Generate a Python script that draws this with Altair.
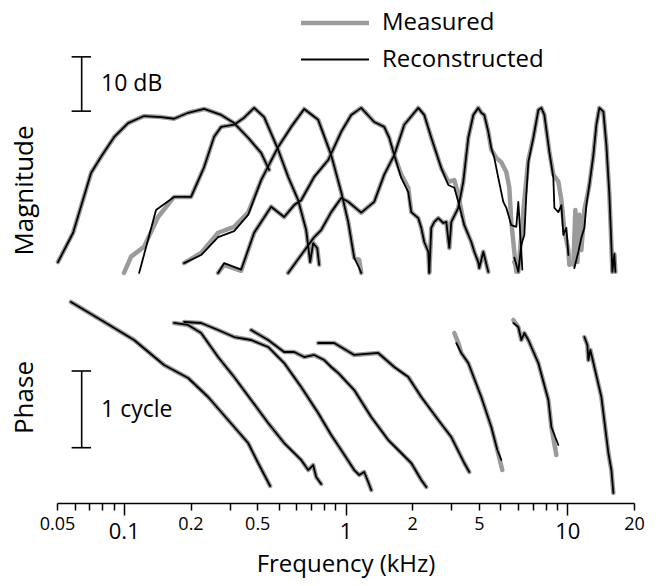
import altair as alt
import pandas as pd

FONT = "Open Sans"
KINDS = ["Measured", "Reconstructed"]

# ---------------- magnitude (kHz, dB re. peak) ----------------
A_f = [0.0505, 0.0591, 0.0712, 0.0790, 0.0904, 0.1046, 0.1234, 0.1474, 0.1686, 0.1951, 0.2304, 0.2749, 0.3146, 0.3638, 0.4165, 0.4525]
A_db = [-28.3, -22.9, -11.9, -8.9, -5.3, -2.7, -1.4, -1.6, -1.9, -0.8, -0.1, -1.2, -2.7, -5.4, -8.2, -11.3]

B_meas_f = [0.1003, 0.1079, 0.1234, 0.1428, 0.1686, 0.2012, 0.2304, 0.2556, 0.2749, 0.3146, 0.3490, 0.3873, 0.4297, 0.4969, 0.5513, 0.6117, 0.6647, 0.6929, 0.7148, 0.7452, 0.7609]
B_meas_db = [-30.3, -27.3, -25.5, -20.0, -16.3, -16.3, -10.8, -5.2, -3.4, -3.0, -1.7, 0.1, -1.6, -7.6, -12.6, -16.9, -22.4, -28.3, -24.8, -25.7, -28.8]
B_rec_f = [0.1173, 0.1287, 0.1398, 0.1686, 0.2012, 0.2304, 0.2556, 0.2749, 0.3146, 0.3490, 0.3873, 0.4297, 0.4969, 0.5513, 0.6117, 0.6647, 0.6929, 0.7148, 0.7452, 0.7609]
B_rec_db = [-30.3, -24.2, -18.7, -16.3, -16.3, -10.8, -5.2, -3.4, -3.0, -1.7, 0.1, -1.6, -7.6, -12.6, -16.9, -22.4, -28.3, -24.8, -25.7, -28.8]

C_f = [0.1871, 0.2233, 0.2664, 0.3146, 0.3638, 0.4165, 0.4969, 0.5688, 0.6511, 0.7530, 0.8620, 0.9563, 1.0284, 1.0946, 1.1530, 1.1772]
C_meas_db = [-28.5, -26.6, -22.9, -21.8, -19.2, -13.2, -7.1, -3.4, -0.1, -2.1, -8.6, -15.4, -20.9, -27.5, -27.9, -30.3]
C_rec_db = [-28.5, -27.0, -23.7, -22.6, -19.6, -13.2, -7.1, -3.4, -0.1, -2.1, -8.6, -15.4, -20.9, -27.5, -29.4, -30.3]

D_f = [0.2664, 0.2836, 0.3383, 0.3873, 0.4620, 0.5289, 0.5868, 0.6311, 0.7223, 0.8355, 0.9563, 1.0610, 1.1772, 1.3474, 1.4950, 1.5749, 1.6589, 1.7844, 1.9191, 1.9800, 2.1290, 2.1964, 2.2660, 2.3622, 2.3868]
D_meas_db = [-30.3, -28.8, -29.9, -22.9, -18.1, -20.0, -17.8, -16.9, -12.6, -9.5, -4.3, -1.2, 0.1, -2.5, -3.4, -5.4, -8.6, -12.2, -14.6, -19.1, -20.2, -22.0, -24.6, -26.4, -30.1]
D_rec_db = [-30.3, -28.5, -29.7, -22.9, -18.1, -20.0, -17.8, -16.9, -12.6, -9.5, -4.3, -1.2, 0.1, -2.5, -3.4, -5.4, -8.6, -12.8, -15.4, -19.1, -20.2, -22.0, -24.6, -26.4, -30.1]

E_f = [0.5513, 0.6311, 0.7223, 0.7768, 0.8620, 0.9563, 1.0284, 1.1772, 1.3474, 1.4950, 1.6589, 1.8410, 2.1290, 2.2660, 2.4370, 2.7040, 2.9081, 3.0953, 3.2254, 3.4331, 3.6924, 3.8093, 3.9700, 4.0115, 4.1818, 4.4048]
E_meas_db = [-30.3, -27.0, -23.7, -22.4, -19.1, -16.5, -17.2, -19.2, -17.2, -12.2, -8.6, -3.0, 0.1, -1.2, -5.4, -11.0, -13.5, -13.2, -15.9, -21.5, -24.6, -26.4, -28.3, -29.4, -26.4, -30.1]
E_rec_db = [-30.3, -27.0, -23.7, -22.4, -19.1, -16.5, -17.2, -19.2, -17.2, -12.2, -8.6, -3.0, 0.1, -1.2, -5.4, -11.0, -14.1, -14.6, -17.2, -21.5, -24.6, -26.4, -28.3, -29.4, -26.4, -30.1]

F_meas_f = [2.3868, 2.4370, 2.5142, 2.6209, 2.7608, 2.8483, 2.9385, 3.0002, 3.2254, 3.3976, 3.5789, 3.7700, 3.9700, 4.0957, 4.2255, 4.4048, 4.5443, 4.7868, 5.0421, 5.3109, 5.4793, 5.5945, 5.7717, 5.8929]
F_meas_db = [-30.3, -22.0, -20.9, -20.2, -21.1, -20.9, -25.7, -20.9, -18.3, -13.5, -5.4, -1.2, 0.1, -0.8, -1.2, -4.3, -7.6, -9.1, -9.9, -11.7, -14.6, -20.9, -26.4, -30.1]
F_rec_f = [2.3868, 2.4370, 2.5142, 2.6209, 2.7608, 2.8483, 2.9385, 3.0002, 3.2254, 3.3976, 3.5789, 3.7700, 3.9700, 4.0957, 4.2255, 4.4048, 4.5443, 4.6884, 4.8873, 5.1479, 5.3109, 5.5945, 5.8929, 6.0167, 6.1430, 6.2720]
F_rec_db = [-30.3, -22.0, -20.9, -20.2, -21.1, -20.9, -25.7, -20.9, -18.3, -13.5, -5.4, -1.2, 0.1, -0.8, -1.2, -4.3, -7.3, -9.1, -12.8, -17.2, -18.3, -21.5, -21.8, -17.2, -23.3, -29.7]

G_meas_f = [5.7717, 6.0167, 6.2072, 6.4037, 6.6754, 7.0318, 7.4068, 7.6417, 7.8840, 8.3043, 8.6570, 9.1188, 9.4076, 9.7055, 10.115, 10.221]
G_meas_db = [-28.3, -30.1, -23.3, -16.9, -9.5, -5.4, -0.3, 0.1, -1.2, -8.0, -12.2, -13.5, -16.9, -22.4, -26.1, -28.8]
G_rec_f = [5.7717, 6.0167, 6.2072, 6.4037, 6.5381, 6.6754, 7.0318, 7.4068, 7.6417, 7.8840, 8.3043, 8.6570, 8.7474, 9.1188, 9.4076, 9.6052, 9.9070, 10.115]
G_rec_db = [-27.5, -30.1, -25.1, -23.3, -15.9, -9.9, -5.4, -0.3, 0.1, -1.2, -8.0, -12.8, -18.3, -19.1, -17.8, -23.3, -22.0, -27.0]

H_meas_f = [10.655, 10.879, 11.108, 11.340, 11.578, 11.945, 12.196, 12.582, 13.115, 13.530, 13.958, 14.551, 15.012, 15.487, 15.812, 15.977, 16.310, 16.481]
H_meas_db = [-28.8, -18.7, -28.3, -19.6, -26.1, -18.7, -16.9, -14.1, -8.6, -3.0, 0.1, -0.6, -6.7, -15.9, -25.1, -30.1, -26.8, -30.1]
H_rec_f = [10.766, 11.223, 11.578, 11.945, 12.196, 12.582, 13.115, 13.530, 13.958, 14.551, 15.012, 15.487, 15.812, 15.977, 16.310, 16.481]
H_rec_db = [-29.4, -26.4, -23.8, -22.0, -17.8, -14.1, -8.6, -3.0, 0.1, -0.6, -6.7, -15.9, -25.1, -30.1, -26.8, -30.1]

# ---------------- phase (kHz, cycles) ----------------
PA_f = [0.0578, 0.0790, 0.1113, 0.1520, 0.1951, 0.2402, 0.2956, 0.3638, 0.4038, 0.4572]
PA_c = [-0.156, -0.391, -0.652, -0.978, -1.147, -1.395, -1.695, -1.995, -2.256, -2.555]
PB_f = [0.1686, 0.1951, 0.2233, 0.2664, 0.3146, 0.3754, 0.4479, 0.5289, 0.6311, 0.6787, 0.7148, 0.7375, 0.7768]
PB_c = [-0.430, -0.456, -0.561, -0.874, -1.134, -1.434, -1.734, -1.995, -2.216, -2.347, -2.282, -2.438, -2.529]
PC_f = [0.1871, 0.2233, 0.2664, 0.3146, 0.3754, 0.4479, 0.5289, 0.6311, 0.7530, 0.8620, 0.9563, 1.0946, 1.1530, 1.2145, 1.2660, 1.3061]
PC_c = [-0.417, -0.430, -0.522, -0.613, -0.652, -0.743, -0.952, -1.265, -1.604, -1.891, -2.086, -2.347, -2.412, -2.373, -2.503, -2.608]
PD_f = [0.3754, 0.4479, 0.5289, 0.5868, 0.6511, 0.7223, 0.8014, 0.8620, 0.9270, 1.0946, 1.3061, 1.5586, 1.7844, 1.9800, 2.1964, 2.3136]
PD_c = [-0.522, -0.652, -0.808, -0.808, -0.874, -0.847, -0.913, -1.004, -1.082, -1.304, -1.656, -1.956, -2.125, -2.256, -2.477, -2.568]
PE_f = [0.7530, 0.8892, 1.0946, 1.4047, 1.6589, 1.9191, 2.1964, 2.6209, 3.0002, 3.4331, 3.6163]
PE_c = [-0.691, -0.691, -0.847, -0.821, -1.004, -1.134, -1.395, -1.695, -1.917, -2.256, -2.373]
PF_meas_f = [3.0953, 3.2254, 3.3277, 3.5789, 4.0957, 4.5443, 4.8368, 5.0947]
PF_meas_c = [-0.561, -0.691, -0.821, -0.952, -1.395, -1.786, -2.086, -2.347]
PF_rec_f = [3.1590, 3.3277, 3.5789, 4.0957, 4.5443, 4.8368, 5.0421]
PF_rec_c = [-0.691, -0.821, -0.952, -1.395, -1.786, -2.086, -2.216]
PG_meas_f = [5.7120, 6.0167, 6.2072, 6.4037, 6.6754, 7.4068, 8.2185, 8.4789, 8.9312]
PG_meas_c = [-0.391, -0.482, -0.652, -0.561, -0.652, -0.952, -1.434, -1.786, -2.151]
PG_rec_f = [5.7120, 6.0167, 6.2072, 6.4037, 6.6754, 7.4068, 8.2185, 8.4789, 9.1188]
PG_rec_c = [-0.430, -0.482, -0.652, -0.561, -0.652, -0.952, -1.434, -1.786, -2.021]
PH_f = [11.945, 12.324, 12.452, 12.713, 13.252, 14.252, 15.327, 15.812, 16.142]
PH_c = [-0.613, -0.717, -0.913, -0.782, -1.004, -1.395, -2.125, -2.347, -2.647]

# ---------------- axis ticks ----------------
TICK_VALUES = [0.05, 0.06, 0.07, 0.08, 0.09, 0.1, 0.2, 0.3, 0.4, 0.5, 0.6, 0.7, 0.8, 0.9,
               1, 2, 3, 4, 5, 6, 7, 8, 9, 10, 20]
LABEL_AT = [0.05, 0.1, 0.2, 0.4, 1, 2, 4, 10, 20]
LABEL_TEXT = ["0.05", "0.1", "0.2", "0.5", "1", "2", "5", "10", "20"]
MAJOR = [0.1, 1, 10]

# scale bars
BAR_X = 0.0646
CAP_L, CAP_R = 0.0582, 0.0712
TEXT_X = 0.0790
MAG_BAR = [-0.5, 9.5]
PHASE_BAR = [-2.056, -1.056]

mag_series = [
    ("A", "Measured", A_f, A_db), ("A", "Reconstructed", A_f, A_db),
    ("B", "Measured", B_meas_f, B_meas_db), ("B", "Reconstructed", B_rec_f, B_rec_db),
    ("C", "Measured", C_f, C_meas_db), ("C", "Reconstructed", C_f, C_rec_db),
    ("D", "Measured", D_f, D_meas_db), ("D", "Reconstructed", D_f, D_rec_db),
    ("E", "Measured", E_f, E_meas_db), ("E", "Reconstructed", E_f, E_rec_db),
    ("F", "Measured", F_meas_f, F_meas_db), ("F", "Reconstructed", F_rec_f, F_rec_db),
    ("G", "Measured", G_meas_f, G_meas_db), ("G", "Reconstructed", G_rec_f, G_rec_db),
    ("H", "Measured", H_meas_f, H_meas_db), ("H", "Reconstructed", H_rec_f, H_rec_db),
]
phase_series = [
    ("A", "Measured", PA_f, PA_c), ("A", "Reconstructed", PA_f, PA_c),
    ("B", "Measured", PB_f, PB_c), ("B", "Reconstructed", PB_f, PB_c),
    ("C", "Measured", PC_f, PC_c), ("C", "Reconstructed", PC_f, PC_c),
    ("D", "Measured", PD_f, PD_c), ("D", "Reconstructed", PD_f, PD_c),
    ("E", "Measured", PE_f, PE_c), ("E", "Reconstructed", PE_f, PE_c),
    ("F", "Measured", PF_meas_f, PF_meas_c), ("F", "Reconstructed", PF_rec_f, PF_rec_c),
    ("G", "Measured", PG_meas_f, PG_meas_c), ("G", "Reconstructed", PG_rec_f, PG_rec_c),
    ("H", "Measured", PH_f, PH_c), ("H", "Reconstructed", PH_f, PH_c),
]


def frame(series):
    rows = []
    for filt, kind, fs, vs in series:
        for f, v in zip(fs, vs):
            rows.append({"filt": filt, "kind": kind, "freq": f, "value": v})
    return pd.DataFrame(rows)


mag_df = frame(mag_series)
phase_df = frame(phase_series)

x_scale = alt.Scale(type="log", domain=[0.05, 20], nice=False)
color_scale = alt.Scale(domain=KINDS, range=["#9b9b9b", "#000000"])
width_scale = alt.Scale(domain=KINDS, range=[4.5, 1.8])

legend = alt.Legend(
    title=None, orient="none", legendX=264, legendY=4, direction="vertical",
    symbolType="M-3,0H3", symbolSize=514, labelFont=FONT, labelFontSize=24,
    labelColor="black", labelOffset=33, labelLimit=400, rowPadding=12, padding=0,
)

BIG = " || ".join(f"datum.value == {v}" for v in MAJOR)
label_expr = " : ".join(f"datum.value == {v} ? '{t}'" for v, t in zip(LABEL_AT, LABEL_TEXT)) + " : ''"

x_axis = alt.Axis(
    values=TICK_VALUES, labelExpr=label_expr, title="Frequency (kHz)",
    grid=False, domainColor="black", domainWidth=1.6, tickColor="black", tickWidth=1.5,
    tickSize={"condition": {"test": BIG, "value": 12}, "value": 7},
    labelFont=FONT, labelColor="black",
    labelFontSize={"condition": {"test": BIG, "value": 22}, "value": 18},
    labelPadding={"condition": {"test": BIG, "value": 6}, "value": 5},
    labelOverlap=False, labelFlush=False, labelBound=False,
    titleFont=FONT, titleFontSize=24, titleFontWeight="normal", titleColor="black",
    titleY=68, titleBaseline="alphabetic",
)


def y_axis(title, ty):
    return alt.Axis(
        title=title, labels=False, ticks=False, domain=False, grid=False,
        titleFont=FONT, titleFontSize=26, titleFontWeight="normal", titleColor="black",
        titleX=-25, titleY=ty, titleBaseline="alphabetic",
    )


def panel(df, ydom, yaxis, xaxis, bar, label, label_y, height):
    ysc = alt.Scale(domain=ydom, nice=False, zero=False)
    layers = []
    for kind in KINDS:
        layers.append(
            alt.Chart(df[df["kind"] == kind]).mark_line(strokeCap="round", strokeJoin="round").encode(
                x=alt.X("freq:Q", scale=x_scale, axis=xaxis),
                y=alt.Y("value:Q", scale=ysc, axis=yaxis),
                detail="filt:N",
                color=alt.Color("kind:N", scale=color_scale, legend=legend),
                strokeWidth=alt.StrokeWidth("kind:N", scale=width_scale, legend=legend),
            )
        )
    bar_df = pd.DataFrame({"freq": [BAR_X], "value": [bar[0]], "value2": [bar[1]]})
    layers.append(
        alt.Chart(bar_df).mark_rule(color="black", strokeWidth=1.6).encode(
            x=alt.X("freq:Q", scale=x_scale, axis=xaxis),
            y=alt.Y("value:Q", scale=ysc, axis=yaxis), y2="value2:Q")
    )
    cap_df = pd.DataFrame({"freq": [CAP_L, CAP_L], "freq2": [CAP_R, CAP_R], "value": bar})
    layers.append(
        alt.Chart(cap_df).mark_rule(color="black", strokeWidth=1.6).encode(
            x=alt.X("freq:Q", scale=x_scale, axis=xaxis), x2="freq2:Q",
            y=alt.Y("value:Q", scale=ysc, axis=yaxis))
    )
    txt_df = pd.DataFrame({"freq": [TEXT_X], "value": [label_y], "label": [label]})
    layers.append(
        alt.Chart(txt_df).mark_text(align="left", baseline="middle", font=FONT, fontSize=23, color="black").encode(
            x=alt.X("freq:Q", scale=x_scale, axis=xaxis),
            y=alt.Y("value:Q", scale=ysc, axis=yaxis), text="label:N")
    )
    return alt.layer(*layers).properties(width=577, height=height)


top = panel(mag_df, [-31.6, 19.05], y_axis("Magnitude", 185), None, MAG_BAR, "10 dB", 4.5, 275)
bottom = panel(phase_df, [-2.777, 0], y_axis("Phase", 107), x_axis, PHASE_BAR, "1 cycle", -1.565, 213)

chart = (
    alt.vconcat(top, bottom, spacing=10)
    .resolve_scale(color="shared", strokeWidth="shared")
    .resolve_legend(color="shared", strokeWidth="shared")
    .properties(padding={"left": 11, "top": 5, "right": 10, "bottom": 6}, background="white")
    .configure_view(stroke=None)
)

chart.save("out.html", embed_options={"renderer": "svg", "actions": False})
